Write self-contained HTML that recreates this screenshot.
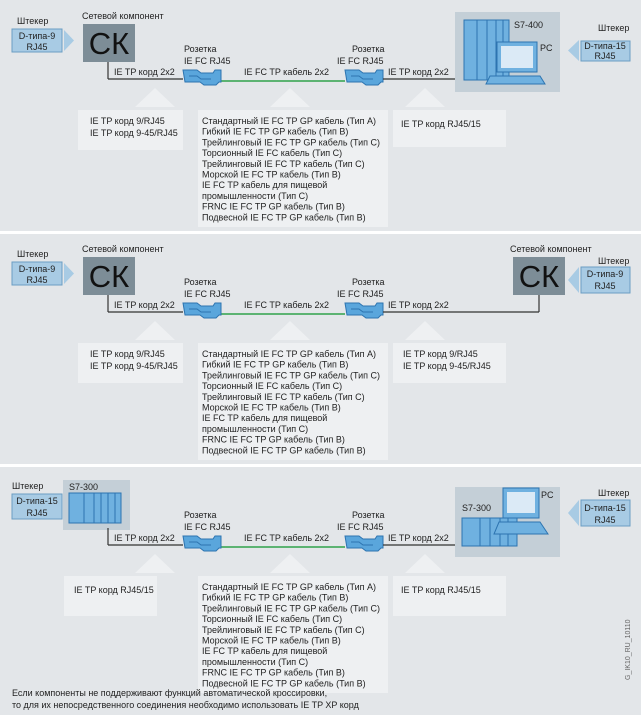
<!DOCTYPE html>
<html><head><meta charset="utf-8"><style>
html,body{margin:0;padding:0;background:#e3e6e9}
svg{display:block}
text{font-family:"Liberation Sans",sans-serif;font-size:9px;fill:#222}
.big{font-size:31px;fill:#111}
.plug{fill:#a8cbe4;stroke:#6b9ec3;stroke-width:1}
.tri{fill:#a8cbe4}
.call{fill:#eef0f2}
.ctri{fill:#eef0f2}
</style></head><body>
<svg width="641" height="719" viewBox="0 0 641 719" xmlns="http://www.w3.org/2000/svg">
<defs>
<g id="sock">
<path d="M0,1 h14 l4,3 h12 l2,-3 h6 v12 h-2 l-3,3 h-12 l-4,-3 h-15 z" fill="#5aa6dc" stroke="#2d74b0" stroke-width="1"/>
<path d="M6,7 h8 l4,3 h10" fill="none" stroke="#2d74b0" stroke-width="1"/>
</g>
<g id="mid">
<polygon points="270,107 290,88 310,107" class="ctri"/>
<rect x="198" y="110" width="190" height="117" class="call"/>
<text x="202" y="124">Стандартный IE FC TP GP кабель (Тип A)</text>
<text x="202" y="134.7">Гибкий IE FC TP GP кабель (Тип B)</text>
<text x="202" y="145.4">Трейлинговый IE FC TP GP кабель (Тип C)</text>
<text x="202" y="156.1">Торсионный IE FC кабель (Тип C)</text>
<text x="202" y="166.8">Трейлинговый IE FC TP кабель (Тип C)</text>
<text x="202" y="177.5">Морской IE FC TP кабель (Тип B)</text>
<text x="202" y="188.2">IE FC TP кабель для пищевой</text>
<text x="202" y="198.9">промышленности (Тип C)</text>
<text x="202" y="209.6">FRNC IE FC TP GP кабель (Тип B)</text>
<text x="202" y="220.3">Подвесной IE FC TP GP кабель (Тип B)</text>
</g>
<g id="cable">
<text x="184" y="52">Розетка</text>
<text x="184" y="64">IE FC RJ45</text>
<text x="352" y="52">Розетка</text>
<text x="337" y="64">IE FC RJ45</text>
<line x1="221" y1="81" x2="345" y2="81" stroke="#2fa24a" stroke-width="1.5"/>
<text x="244" y="75">IE FC TP кабель 2x2</text>
<use href="#sock" x="183" y="69"/>
<use href="#sock" x="345" y="69"/>
<line x1="108" y1="62" x2="108" y2="79" stroke="#333" stroke-width="1.2"/>
<line x1="108" y1="79" x2="183" y2="79" stroke="#333" stroke-width="1.2"/>
<text x="114" y="75">IE TP корд 2x2</text>
<text x="388" y="75">IE TP корд 2x2</text>
<polygon points="135,107 155,88 175,107" class="ctri"/>
<polygon points="405,107 425,88 445,107" class="ctri"/>
</g>
</defs>
<rect x="0" y="231" width="641" height="3" fill="#fff"/>
<rect x="0" y="464" width="641" height="3" fill="#fff"/>

<g>
<text x="17" y="24">Штекер</text>
<rect x="12" y="29" width="50" height="23" class="plug"/>
<text x="37" y="39" text-anchor="middle">D-типа-9</text>
<text x="37" y="50" text-anchor="middle">RJ45</text>
<polygon points="64,30 74,40.5 64,51" class="tri"/>
<text x="82" y="19">Сетевой компонент</text>
<rect x="83" y="24" width="52" height="38" fill="#7d8d97"/>
<text x="109" y="54" class="big" text-anchor="middle">СК</text>
<use href="#cable"/>
<line x1="383" y1="79" x2="455" y2="79" stroke="#333" stroke-width="1.2"/>
<rect x="455" y="12" width="105" height="80" fill="#c4cfd7"/>
<rect x="464" y="20" width="45" height="60" fill="#6fb1e0" stroke="#2d74b0"/>
<line x1="477" y1="20" x2="477" y2="80" stroke="#2d74b0"/><line x1="487" y1="20" x2="487" y2="80" stroke="#2d74b0"/><line x1="496" y1="20" x2="496" y2="80" stroke="#2d74b0"/><line x1="503" y1="20" x2="503" y2="80" stroke="#2d74b0"/>
<rect x="497" y="42" width="40" height="30" fill="#6fb1e0" stroke="#2d74b0"/>
<rect x="501" y="46" width="32" height="22" fill="#dbeaf6"/>
<polygon points="490,76 540,76 545,84 486,84" fill="#6fb1e0" stroke="#2d74b0"/>
<text x="514" y="28">S7-400</text>
<text x="540" y="51">PC</text>
<text x="598" y="31">Штекер</text>
<rect x="581" y="41" width="49" height="20" class="plug"/>
<text x="605" y="49" text-anchor="middle">D-типа-15</text>
<text x="605" y="59" text-anchor="middle">RJ45</text>
<polygon points="579,40 568,50.5 579,61" class="tri"/>
<rect x="78" y="110" width="105" height="40" class="call"/>
<text x="90" y="124">IE TP корд 9/RJ45</text>
<text x="90" y="136">IE TP корд 9-45/RJ45</text>
<rect x="393" y="110" width="113" height="37" class="call"/>
<text x="401" y="127">IE TP корд RJ45/15</text>
<use href="#mid"/>
</g>

<g transform="translate(0,233)">
<text x="17" y="24">Штекер</text>
<rect x="12" y="29" width="50" height="23" class="plug"/>
<text x="37" y="39" text-anchor="middle">D-типа-9</text>
<text x="37" y="50" text-anchor="middle">RJ45</text>
<polygon points="64,30 74,40.5 64,51" class="tri"/>
<text x="82" y="19">Сетевой компонент</text>
<rect x="83" y="24" width="52" height="38" fill="#7d8d97"/>
<text x="109" y="54" class="big" text-anchor="middle">СК</text>
<use href="#cable"/>
<line x1="383" y1="79" x2="539" y2="79" stroke="#333" stroke-width="1.2"/>
<line x1="539" y1="62" x2="539" y2="79" stroke="#333" stroke-width="1.2"/>
<text x="510" y="19">Сетевой компонент</text>
<rect x="513" y="24" width="52" height="38" fill="#7d8d97"/>
<text x="539" y="54" class="big" text-anchor="middle">СК</text>
<text x="598" y="31">Штекер</text>
<rect x="581" y="34" width="49" height="26" class="plug"/>
<text x="605" y="44" text-anchor="middle">D-типа-9</text>
<text x="605" y="56" text-anchor="middle">RJ45</text>
<polygon points="579,34 568,47 579,60" class="tri"/>
<rect x="78" y="110" width="105" height="40" class="call"/>
<text x="90" y="124">IE TP корд 9/RJ45</text>
<text x="90" y="136">IE TP корд 9-45/RJ45</text>
<rect x="393" y="110" width="113" height="40" class="call"/>
<text x="403" y="124">IE TP корд 9/RJ45</text>
<text x="403" y="136">IE TP корд 9-45/RJ45</text>
<use href="#mid"/>
</g>

<g transform="translate(0,466)">
<text x="12" y="23">Штекер</text>
<rect x="12" y="28" width="50" height="25" class="plug"/>
<text x="37" y="38" text-anchor="middle">D-типа-15</text>
<text x="37" y="50" text-anchor="middle">RJ45</text>
<polygon points="64,30 74,40.5 64,51" class="tri"/>
<rect x="63" y="14" width="67" height="50" fill="#c4cfd7"/>
<text x="69" y="24">S7-300</text>
<rect x="69" y="27" width="52" height="30" fill="#6fb1e0" stroke="#2d74b0"/>
<line x1="84" y1="27" x2="84" y2="57" stroke="#2d74b0"/><line x1="94" y1="27" x2="94" y2="57" stroke="#2d74b0"/><line x1="101" y1="27" x2="101" y2="57" stroke="#2d74b0"/><line x1="108" y1="27" x2="108" y2="57" stroke="#2d74b0"/><line x1="115" y1="27" x2="115" y2="57" stroke="#2d74b0"/>
<use href="#cable"/>
<line x1="383" y1="79" x2="455" y2="79" stroke="#333" stroke-width="1.2"/>
<rect x="455" y="21" width="105" height="70" fill="#c4cfd7"/>
<text x="462" y="45">S7-300</text>
<text x="541" y="32">PC</text>
<rect x="462" y="52" width="55" height="28" fill="#6fb1e0" stroke="#2d74b0"/>
<line x1="480" y1="52" x2="480" y2="80" stroke="#2d74b0"/><line x1="490" y1="52" x2="490" y2="80" stroke="#2d74b0"/><line x1="500" y1="52" x2="500" y2="80" stroke="#2d74b0"/><line x1="508" y1="52" x2="508" y2="80" stroke="#2d74b0"/>
<rect x="503" y="22" width="36" height="30" fill="#6fb1e0" stroke="#2d74b0"/>
<rect x="507" y="26" width="28" height="21" fill="#dbeaf6"/>
<polygon points="499,56 540,56 548,68 494,68" fill="#6fb1e0" stroke="#2d74b0"/>
<text x="598" y="30">Штекер</text>
<rect x="581" y="34" width="49" height="26" class="plug"/>
<text x="605" y="45" text-anchor="middle">D-типа-15</text>
<text x="605" y="57" text-anchor="middle">RJ45</text>
<polygon points="579,34 568,47 579,60" class="tri"/>
<rect x="64" y="110" width="93" height="40" class="call"/>
<text x="74" y="127">IE TP корд RJ45/15</text>
<rect x="393" y="110" width="113" height="40" class="call"/>
<text x="401" y="127">IE TP корд RJ45/15</text>
<use href="#mid"/>
<text x="12" y="230">Если компоненты не поддерживают функций автоматической кроссировки,</text>
<text x="12" y="242">то для их непосредственного соединения необходимо использовать IE TP XP корд</text>
<text transform="translate(630,214) rotate(-90)" style="font-size:7px;fill:#666">G_IK10_RU_10110</text>
</g>
<rect x="0" y="715" width="641" height="4" fill="#fff"/>
</svg>
</body></html>
